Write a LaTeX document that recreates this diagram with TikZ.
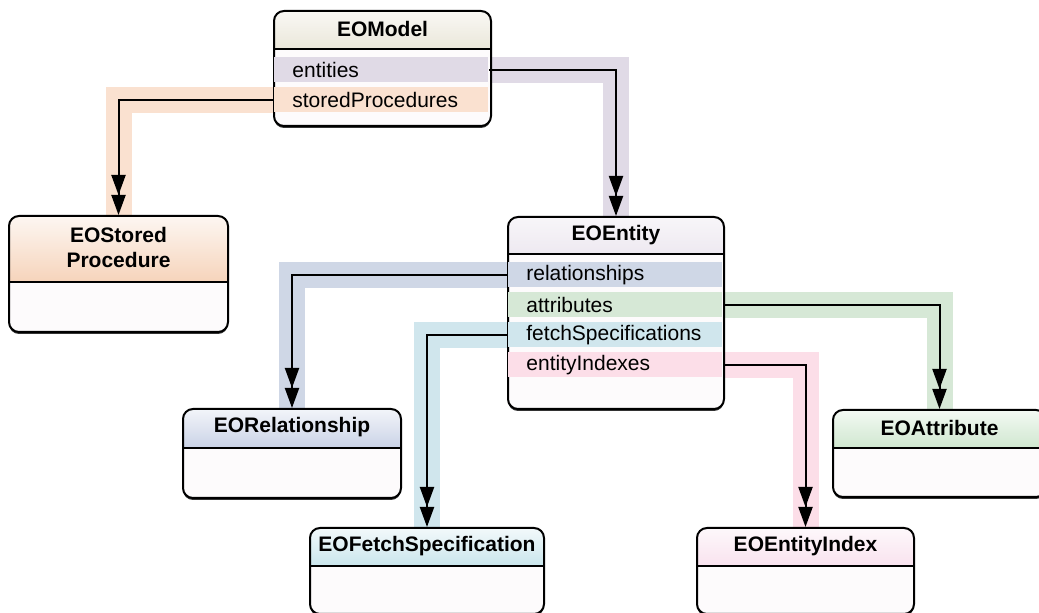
\documentclass[tikz,border=0pt]{standalone}
\usepackage{fontspec}
\setmainfont{Liberation Sans}
\usetikzlibrary{arrows.meta,backgrounds,shadows}

\definecolor{bodyfill}{RGB}{253,251,252}
\definecolor{modelhead}{RGB}{205,197,165}
\definecolor{prochead}{RGB}{240,185,145}
\definecolor{entityhead}{RGB}{195,178,205}
\definecolor{relhead}{RGB}{150,167,207}
\definecolor{attrhead}{RGB}{160,208,160}
\definecolor{fetchhead}{RGB}{150,205,218}
\definecolor{indexhead}{RGB}{243,198,222}
\definecolor{entitiesband}{RGB}{224,218,230}
\definecolor{procband}{RGB}{250,225,208}
\definecolor{relband}{RGB}{207,215,230}
\definecolor{attrband}{RGB}{214,232,214}
\definecolor{fetchband}{RGB}{208,230,237}
\definecolor{indexband}{RGB}{252,222,232}

\begin{document}
\begin{tikzpicture}[x=0.5pt,y=-0.5pt,
		font=\fontsize{10.5}{12.5}\selectfont,
		class/.style={draw, line width=1pt, rounded corners=5pt, fill=bodyfill,
			anchor=north west, inner sep=0pt,
			drop shadow={shadow xshift=0pt, shadow yshift=-1pt, opacity=1, fill=black!80}},
		head/.style 2 args={path picture={
				\shade[sharp corners, top color=#1!12!white, bottom color=#1]
				(path picture bounding box.north west) rectangle ([yshift=-#2]path picture bounding box.north east);
				\draw[sharp corners, line width=0.8pt]
				([yshift=-#2]path picture bounding box.north west) -- ([yshift=-#2]path picture bounding box.north east);}},
		title/.style={font=\fontsize{10.5}{12.5}\selectfont\bfseries, align=center, inner sep=0pt},
		slot/.style={fill=#1, anchor=west, minimum height=12.5pt, inner sep=0pt,
			inner xsep=9pt, text width=89pt, align=left},
		band/.style={draw=#1, line width=13pt, line join=miter},
		link/.style={line width=1pt, -{Triangle[length=10pt,width=7pt] Triangle[length=10pt,width=7pt]}}]

		\useasboundingbox (0,0) rectangle (1039,613);
		\clip (0,0) rectangle (1039,613);

		% classes
		\draw (273,10) node [class, head={modelhead}{19pt}, minimum width=108.5pt, minimum height=57.5pt] (model){};
		\draw (8,215) node [class, head={prochead}{33pt}, minimum width=109.5pt, minimum height=58pt] (storedproc){};
		\draw (507,216) node [class, head={entityhead}{18.5pt}, minimum width=108pt, minimum height=96pt] (entity){};
		\draw (182,408) node [class, head={relhead}{19.5pt}, minimum width=109pt, minimum height=44.5pt] (relationship){};
		\draw (832,409) node [class, head={attrhead}{19pt}, minimum width=106.5pt, minimum height=43.5pt] (attribute){};
		\draw (309,527) node [class, head={fetchhead}{19pt}, minimum width=117pt, minimum height=43pt] (fetchspec){};
		\draw (696,527) node [class, head={indexhead}{19pt}, minimum width=108.5pt, minimum height=43pt] (entityindex){};

		% titles
		\draw ([yshift=-9.5pt]model.north) node [title] (model-title){EOModel};
		\draw ([yshift=-16.5pt]storedproc.north) node [title] (storedproc-title){EOStored\\Procedure};
		\draw ([yshift=-9.5pt]entity.north) node [title] (entity-title){EOEntity};
		\draw ([yshift=-9.75pt]relationship.north) node [title] (relationship-title){EORelationship};
		\draw ([yshift=-9.5pt]attribute.north) node [title] (attribute-title){EOAttribute};
		\draw ([yshift=-9.5pt]fetchspec.north) node [title] (fetchspec-title){EOFetchSpecification};
		\draw ([yshift=-9.5pt]entityindex.north) node [title] (entityindex-title){EOEntityIndex};

		% properties
		\draw (274,70) node [slot=entitiesband] (model-entities){entities};
		\draw (274,100) node [slot=procband] (model-procs){storedProcedures};
		\draw (508,275) node [slot=relband] (entity-rel){relationships};
		\draw (508,305) node [slot=attrband] (entity-attr){attributes};
		\draw (508,335) node [slot=fetchband] (entity-fetch){fetchSpecifications};
		\draw (508,365) node [slot=indexband] (entity-index){entityIndexes};

		% connectors
		\begin{scope}[on background layer]
			\draw[band=procband] (model-procs.west) -| (storedproc.north);
			\draw[band=entitiesband] (model-entities.east) -| (entity.north);
			\draw[band=relband] (entity-rel.west) -| (relationship.north);
			\draw[band=attrband] (entity-attr.east) -| (attribute.north);
			\draw[band=fetchband] (entity-fetch.west) -| (fetchspec.north);
			\draw[band=indexband] (entity-index.east) -| (entityindex.north);
		\end{scope}

		\draw[link] (model-procs.west) -| (storedproc.north);
		\draw[link] (model-entities.east) -| (entity.north);
		\draw[link] (entity-rel.west) -| (relationship.north);
		\draw[link] (entity-attr.east) -| (attribute.north);
		\draw[link] (entity-fetch.west) -| (fetchspec.north);
		\draw[link] (entity-index.east) -| (entityindex.north);
	\end{tikzpicture}
\end{document}
